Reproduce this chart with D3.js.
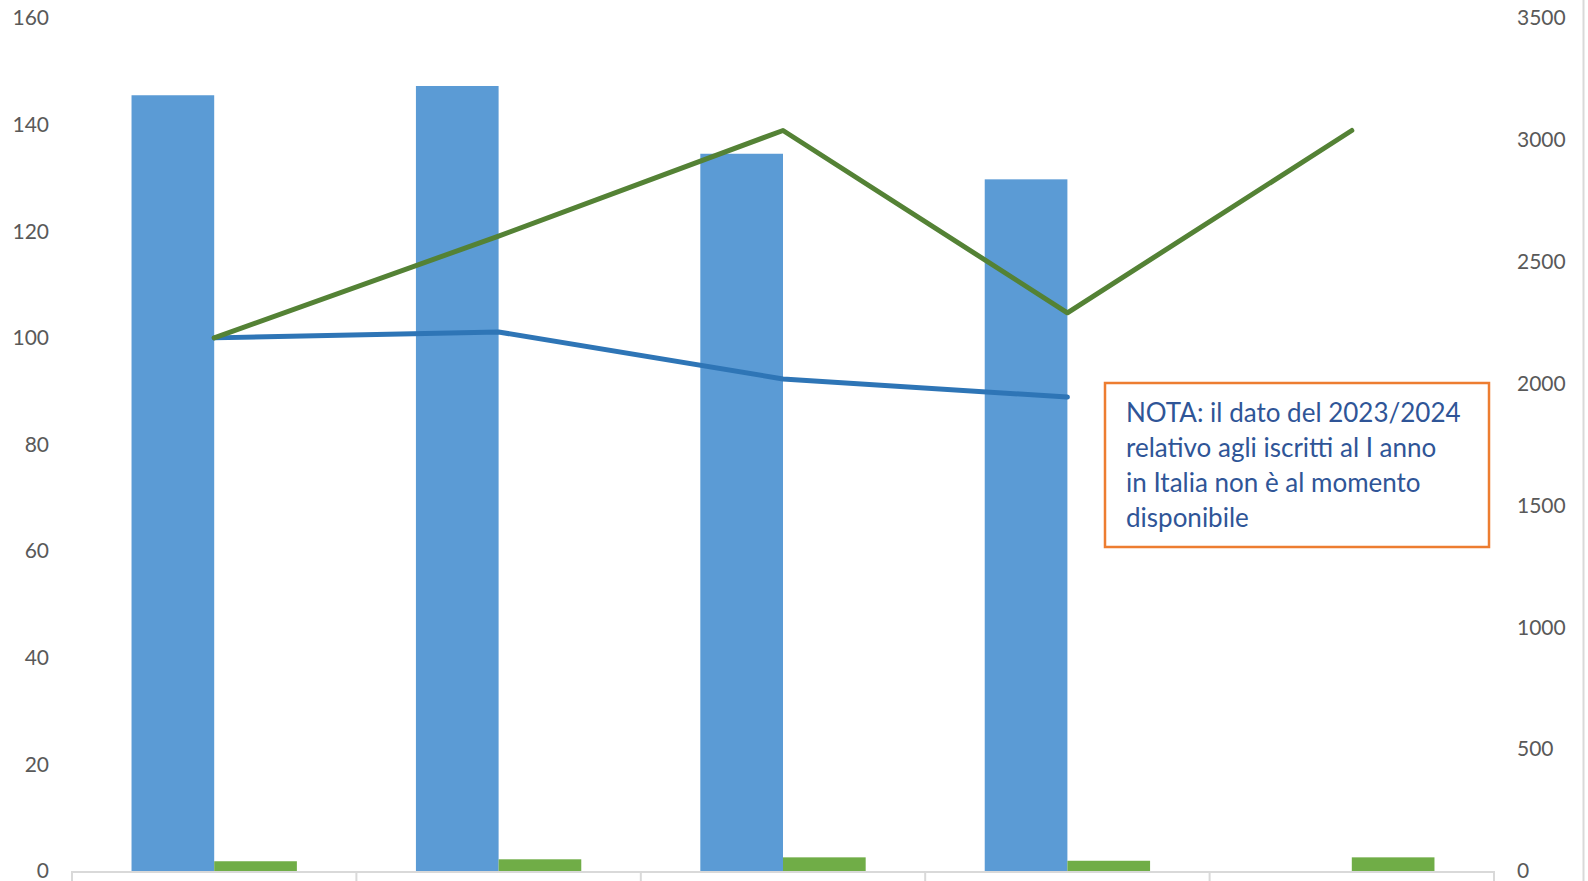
<!DOCTYPE html>
<html>
<head>
<meta charset="utf-8">
<script src="https://cdn.jsdelivr.net/npm/d3@7"></script>
<style>
  body { margin: 0; background: #fff; }
  svg { display: block; }
</style>
</head>
<body>
<svg id="chart"></svg>
<script>
var width = 1588;
var height = 881;
var margin = {top: 18, bottom: 10, left: 72, right: 94};
var widthInner = width - margin.left - margin.right;
var heightInner = height - margin.top - margin.bottom;

// data
var categories = ['2019/2020', '2020/2021', '2021/2022', '2022/2023', '2023/2024'];
var barItalia = [3183, 3221, 2943, 2838, null];
var barLocale = [40, 48, 56, 42, 56];
var lineItalia = [100, 101.1, 92.3, 88.9, null];
var lineLocale = [100, 119.1, 138.9, 104.7, 138.9];
var leftTicks = [0, 20, 40, 60, 80, 100, 120, 140, 160];
var rightTicks = [0, 500, 1000, 1500, 2000, 2500, 3000, 3500];
var notaLines = ['NOTA: il dato del 2023/2024', 'relativo agli iscritti al I anno', 'in Italia non è al momento', 'disponibile'];

var svg = d3.select('#chart')
	.attr('width', width)
	.attr('height', height);

var g = svg.append('g')
	.attr('transform', 'translate(' + margin.left + ',' + margin.top + ')');

var x = d3.scaleBand()
	.range([0, widthInner])
	.padding(0)
	.domain(categories);

var xSeries = d3.scaleBand()
	.range([0, x.bandwidth()])
	.paddingInner(0)
	.paddingOuter(0.72)
	.domain(['italia', 'locale']);

var yLeft = d3.scaleLinear()
	.range([heightInner, 0])
	.domain([0, 160]);

var yRight = d3.scaleLinear()
	.range([heightInner, 0])
	.domain([0, 3500]);

// right border of chart area
svg.append('line')
	.attr('x1', 1583.5).attr('x2', 1583.5)
	.attr('y1', 0).attr('y2', height)
	.attr('stroke', '#d9d9d9')
	.attr('stroke-width', 2);

// tick labels
g.selectAll('.ltick')
	.data(leftTicks)
	.enter().append('text')
	.attr('class', 'ltick')
	.attr('x', -23)
	.attr('y', function(d) { return yLeft(d); })
	.attr('dy', '0.35em')
	.attr('text-anchor', 'end')
	.attr('font-family', 'Lato, sans-serif')
	.attr('font-size', 21)
	.attr('fill', '#595959')
	.text(function(d) { return d; });

g.selectAll('.rtick')
	.data(rightTicks)
	.enter().append('text')
	.attr('class', 'rtick')
	.attr('x', widthInner + 23)
	.attr('y', function(d) { return yRight(d); })
	.attr('dy', '0.35em')
	.attr('text-anchor', 'start')
	.attr('font-family', 'Lato, sans-serif')
	.attr('font-size', 21)
	.attr('fill', '#595959')
	.text(function(d) { return d; });

// bars
g.selectAll('.bar-italia')
	.data(categories.filter(function(c, i) { return barItalia[i] != null; }))
	.enter().append('rect')
	.attr('class', 'bar-italia')
	.attr('x', function(d) { return x(d) + xSeries('italia'); })
	.attr('y', function(d) { return yRight(barItalia[categories.indexOf(d)]); })
	.attr('width', xSeries.bandwidth())
	.attr('height', function(d) { return heightInner - yRight(barItalia[categories.indexOf(d)]); })
	.attr('fill', '#5B9BD5');

g.selectAll('.bar-locale')
	.data(categories)
	.enter().append('rect')
	.attr('class', 'bar-locale')
	.attr('x', function(d) { return x(d) + xSeries('locale'); })
	.attr('y', function(d, i) { return yRight(barLocale[i]); })
	.attr('width', xSeries.bandwidth())
	.attr('height', function(d, i) { return heightInner - yRight(barLocale[i]); })
	.attr('fill', '#70AD47');

// x axis line and boundary ticks
g.append('line')
	.attr('x1', 0).attr('x2', widthInner)
	.attr('y1', heightInner + 1).attr('y2', heightInner + 1)
	.attr('stroke', '#d9d9d9')
	.attr('stroke-width', 2);

var bounds = categories.map(function(c) { return x(c); }).concat([x.range()[1]]);
g.selectAll('.xtick')
	.data(bounds)
	.enter().append('line')
	.attr('class', 'xtick')
	.attr('x1', function(d) { return d; })
	.attr('x2', function(d) { return d; })
	.attr('y1', heightInner)
	.attr('y2', heightInner + 14)
	.attr('stroke', '#d9d9d9')
	.attr('stroke-width', 2);

// lines
var line = d3.line()
	.defined(function(d) { return d.v != null; })
	.x(function(d) { return x(d.c) + x.bandwidth() / 2; })
	.y(function(d) { return yLeft(d.v); });

g.append('path')
	.datum(categories.map(function(c, i) { return {c: c, v: lineItalia[i]}; }))
	.attr('d', line)
	.attr('fill', 'none')
	.attr('stroke', '#2E75B6')
	.attr('stroke-width', 5)
	.attr('stroke-linecap', 'round')
	.attr('stroke-linejoin', 'round');

g.append('path')
	.datum(categories.map(function(c, i) { return {c: c, v: lineLocale[i]}; }))
	.attr('d', line)
	.attr('fill', 'none')
	.attr('stroke', '#548235')
	.attr('stroke-width', 5)
	.attr('stroke-linecap', 'round')
	.attr('stroke-linejoin', 'round');

// nota box
var nota = svg.append('g')
	.attr('transform', 'translate(1105,383)');

nota.append('rect')
	.attr('width', 384)
	.attr('height', 164)
	.attr('fill', '#fff')
	.attr('stroke', '#ED7D31')
	.attr('stroke-width', 2.5);

nota.selectAll('text')
	.data(notaLines)
	.enter().append('text')
	.attr('x', 21)
	.attr('y', function(d, i) { return 39 + i * 35; })
	.attr('font-family', 'Lato, sans-serif')
	.attr('font-size', 26)
	.attr('fill', '#2F5597')
	.text(function(d) { return d; });
</script>
</body>
</html>
